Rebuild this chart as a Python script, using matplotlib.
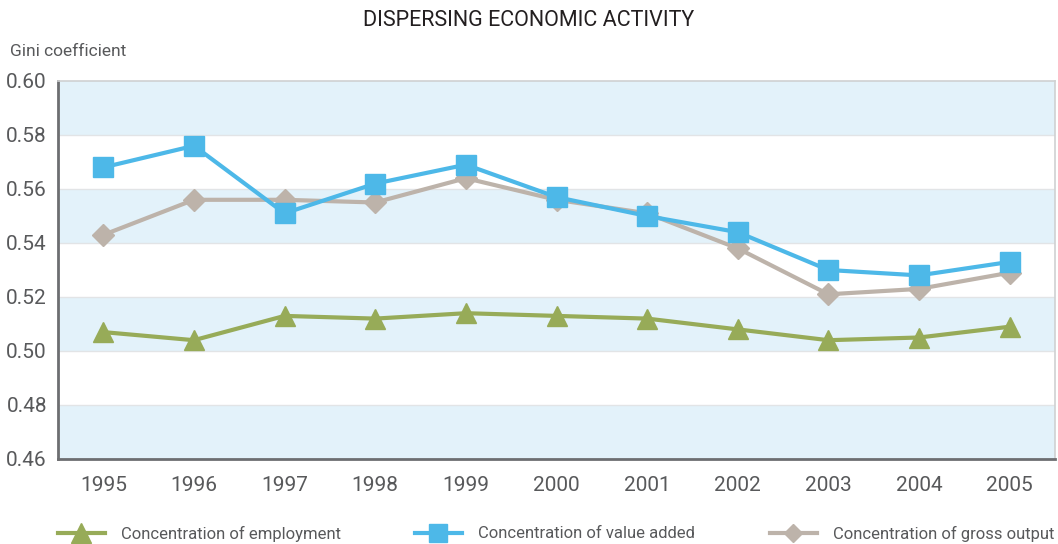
import matplotlib.pyplot as plt
from matplotlib.lines import Line2D

years = [1995, 1996, 1997, 1998, 1999, 2000, 2001, 2002, 2003, 2004, 2005]
employment = [0.507, 0.504, 0.513, 0.512, 0.514, 0.513, 0.512, 0.508, 0.504, 0.505, 0.509]
value_added = [0.568, 0.576, 0.551, 0.562, 0.569, 0.557, 0.550, 0.544, 0.530, 0.528, 0.533]
gross_output = [0.543, 0.556, 0.556, 0.555, 0.564, 0.556, 0.551, 0.538, 0.521, 0.523, 0.529]
y_ticks = [0.46, 0.48, 0.50, 0.52, 0.54, 0.56, 0.58, 0.60]
labels = ['Concentration of employment', 'Concentration of value added', 'Concentration of gross output']

green = '#97ab58'
blue = '#4db8e8'
grey = '#bdb3aa'
band = '#e3f2fa'
axis_col = '#6d6e71'
text_col = '#58595b'

plt.rcParams['font.family'] = ['Roboto', 'DejaVu Sans']

fig = plt.figure(figsize=(10.58, 5.44), dpi=100)
ax = fig.add_axes([58 / 1058, 1 - 459 / 544, 997 / 1058, 378 / 544])

# alternating background bands
for i in range(0, len(y_ticks) - 1, 2):
    ax.axhspan(y_ticks[i], y_ticks[i + 1], color=band, zorder=0, lw=0)
for y in y_ticks[1:-1]:
    ax.axhline(y, color='#e2e4e6', lw=1, zorder=1)

ax.plot(years, employment, color=green, lw=3, marker='^', ms=15, zorder=3)
ax.plot(years, gross_output, color=grey, lw=3, marker='D', ms=11, zorder=4)
ax.plot(years, value_added, color=blue, lw=3, marker='s', ms=14, zorder=5)

ax.set_xlim(1994.5, 2005.5)
ax.set_ylim(0.46, 0.60)
ax.set_xticks(years)
ax.set_xticklabels([str(y) for y in years], fontsize=15, color=text_col)
ax.set_yticks(y_ticks)
ax.set_yticklabels([f'{y:.2f}' for y in y_ticks], fontsize=15, color=text_col)
ax.tick_params(axis='both', length=0)
ax.tick_params(axis='x', pad=12)
ax.tick_params(axis='y', pad=8)

for s in ['left', 'bottom']:
    ax.spines[s].set_color(axis_col)
    ax.spines[s].set_linewidth(2)
for s in ['top', 'right']:
    ax.spines[s].set_color('#cfd1d2')
    ax.spines[s].set_linewidth(1.2)

fig.text(0.5, 1 - 20 / 544, 'DISPERSING ECONOMIC ACTIVITY', ha='center', va='center',
         fontsize=15.5, color='#231f20')
fig.text(10 / 1058, 1 - 51 / 544, 'Gini coefficient', ha='left', va='center',
         fontsize=12.5, color=text_col)

handles = [
    Line2D([], [], color=green, lw=3, marker='^', ms=14),
    Line2D([], [], color=blue, lw=3, marker='s', ms=13),
    Line2D([], [], color=grey, lw=3, marker='D', ms=9),
]
x_pos = [58, 415, 770]
for h, lab, xp in zip(handles, labels, x_pos):
    fig.legend([h], [lab], loc='center left', bbox_to_anchor=(xp / 1058, 1 - 534 / 544),
               frameon=False, fontsize=12, labelcolor=text_col, handlelength=2.8,
               handletextpad=1.0, borderaxespad=0, borderpad=0)

fig.savefig('out.png', dpi=100)
